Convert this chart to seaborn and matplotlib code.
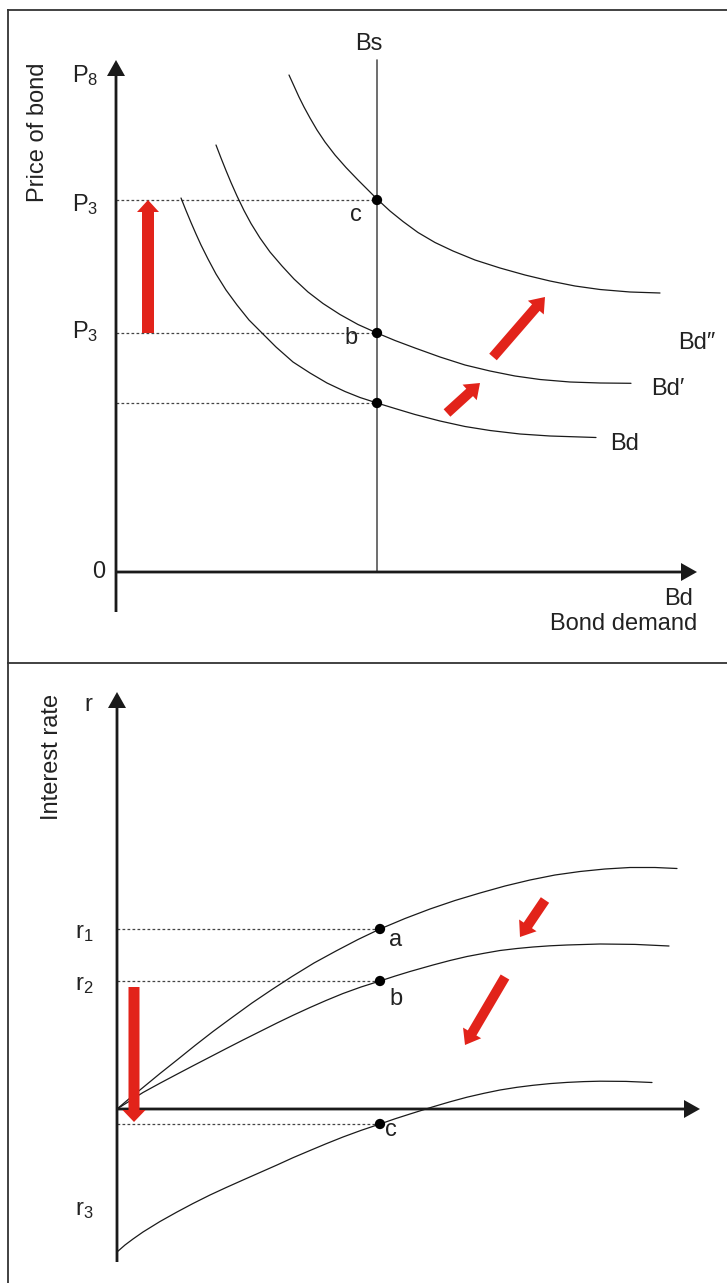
import matplotlib
matplotlib.use("Agg")
import matplotlib.pyplot as plt
import seaborn as sns

sns.set_theme(style="white")
plt.rcParams['font.family'] = ['Liberation Sans', 'DejaVu Sans']
plt.rcParams['mathtext.default'] = 'regular'

# ---------------- data: top panel (bond market) ----------------
bd2_x = [17.3, 17.8, 18.3, 18.8, 19.4, 20.1, 20.9, 21.9, 23.0, 24.2, 25.2, 26.1, 27.4, 28.7,
         30.2, 31.9, 33.7, 35.9, 38.4, 40.9, 43.4, 45.9, 48.4, 51.4, 54.4]
bd2_y = [49.7, 48.6, 47.5, 46.5, 45.4, 44.2, 43.0, 41.7, 40.45, 39.2, 38.2, 37.3, 36.1, 35.05,
         33.95, 32.95, 32.1, 31.2, 30.4, 29.7, 29.1, 28.6, 28.25, 28.0, 27.9]
bd1_x = [10.0, 10.5, 11.0, 11.5, 12.1, 12.8, 13.5, 14.4, 15.4, 16.6, 17.8, 19.2, 20.7, 22.4,
         24.2, 26.1, 27.9, 29.9, 32.4, 34.9, 37.4, 39.9, 42.4, 45.4, 48.4, 51.5]
bd1_y = [42.7, 41.4, 40.15, 38.95, 37.6, 36.15, 34.85, 33.4, 32.0, 30.6, 29.3, 28.0, 26.85, 25.75,
         24.75, 23.9, 23.15, 22.4, 21.5, 20.7, 20.1, 19.6, 19.25, 19.0, 18.9, 18.87]
bd0_x = [6.5, 7.0, 7.5, 8.0, 8.5, 9.2, 10.0, 11.0, 12.1, 13.3, 14.6, 16.0, 17.7, 19.4, 21.1,
         22.9, 24.4, 26.1, 27.9, 29.9, 32.4, 34.9, 37.4, 40.4, 43.4, 48.0]
bd0_y = [37.4, 36.15, 34.95, 33.8, 32.7, 31.3, 29.8, 28.2, 26.7, 25.2, 23.9, 22.5, 21.0, 19.9, 18.9,
         18.05, 17.45, 16.9, 16.35, 15.75, 15.1, 14.55, 14.15, 13.8, 13.6, 13.45]
bs_q = 26.1
price_levels = [37.2, 23.9, 16.9]          # c, b, (a)
price_point_labels = ["c", "b", ""]
price_tick_labels = ["P$_8$", "P$_3$", "P$_3$"]
curve_labels_top = ["Bd″", "Bd′", "Bd"]

# ---------------- data: bottom panel (interest rate) ----------------
ra_x = [0, 1.3, 2.6, 4.3, 6.0, 7.8, 9.6, 11.5, 13.5, 15.5, 17.5, 19.7, 21.9, 24.1, 26.3, 28.8,
        31.3, 33.8, 36.3, 38.8, 41.3, 43.8, 46.3, 48.8, 51.3, 53.8, 56.0]
ra_y = [0, 1.1, 2.15, 3.55, 4.9, 6.35, 7.75, 9.15, 10.6, 11.95, 13.25, 14.6, 15.8, 16.95, 18.0, 19.05,
        20.0, 20.85, 21.6, 22.3, 22.9, 23.4, 23.75, 24.0, 24.15, 24.15, 24.05]
rb_x = [0, 1.3, 2.6, 4.3, 6.0, 7.6, 9.3, 10.9, 12.6, 14.3, 16.0, 17.6, 19.3, 20.9, 22.6, 24.4,
        26.3, 27.8, 29.3, 31.6, 33.3, 35.0, 36.7, 38.3, 40.0, 41.6, 43.3, 45.0, 48.3, 51.8, 55.2]
rb_y = [0, 0.82, 1.65, 2.58, 3.48, 4.32, 5.2, 6.03, 6.9, 7.75, 8.6, 9.37, 10.15, 10.85, 11.55, 12.2,
        12.8, 13.29, 13.75, 14.4, 14.85, 15.25, 15.57, 15.85, 16.05, 16.2, 16.32, 16.4, 16.5, 16.46, 16.3]
rc_x = [0, 0.8, 1.6, 2.6, 4.3, 6.0, 7.6, 9.3, 10.9, 12.6, 14.3, 16.0, 17.6, 19.3, 20.9, 22.6, 24.4,
        26.3, 27.8, 29.3, 31.6, 33.3, 35.0, 36.7, 38.3, 40.0, 41.6, 43.3, 45.0, 46.7, 48.3, 50.9, 53.5]
rc_y = [-14.3, -13.6, -13.0, -12.3, -11.25, -10.3, -9.45, -8.6, -7.86, -7.1, -6.35, -5.6, -4.87,
        -4.15, -3.48, -2.8, -2.14, -1.5, -0.98, -0.5, 0.22, 0.72, 1.18, 1.57, 1.9, 2.17, 2.37, 2.54,
        2.66, 2.74, 2.78, 2.76, 2.65]
r_q = 26.3
rate_levels = [18.0, 12.8, -1.5]
rate_point_labels = ["a", "b", "c"]
rate_tick_labels = ["r$_1$", "r$_2$", "r$_3$"]

RED = "#e2231a"
INK = "#1a1a1a"
TXT = "#222222"
FS = 17

W, H = 727, 1283
fig = plt.figure(figsize=(W / 100, H / 100), dpi=100, facecolor="white")
ax1 = fig.add_axes([8 / W, (H - 663) / H, 1 - 8 / W, (663 - 10) / H])
ax2 = fig.add_axes([8 / W, 0, 1 - 8 / W, (H - 663) / H])

for ax in (ax1, ax2):
    ax.set_xticks([]); ax.set_yticks([])
    for s in ("right", "bottom"):
        ax.spines[s].set_visible(False)
    for s in ("left", "top"):
        ax.spines[s].set_visible(True)
        ax.spines[s].set_color("#333333")
        ax.spines[s].set_linewidth(1.3)
    ax.set_facecolor("white")

ax1.set_xlim(-10.8, 61.1); ax1.set_ylim(-9.1, 56.2)
ax2.set_xlim(-10.9, 61.0); ax2.set_ylim(-17.4, 44.6)

axis_kw = dict(width=0.28, head_width=1.8, head_length=1.6, length_includes_head=True,
               color=INK, lw=0, zorder=5)
curve_kw = dict(color=INK, lw=0.9, estimator=None, sort=False, zorder=3,
                solid_joinstyle="round", solid_capstyle="round")
dot_line_kw = dict(color="#444444", lw=0.9, dashes=(2.2, 1.8), zorder=2)

# ---------- top panel ----------
ax1.arrow(0, -4.0, 0, 55.2, **axis_kw)
ax1.arrow(0, 0, 58.1, 0, **axis_kw)
ax1.plot([bs_q, bs_q], [0, 51.2], color="#555555", lw=1.2, zorder=2)

for xs, ys in ((bd2_x, bd2_y), (bd1_x, bd1_y), (bd0_x, bd0_y)):
    sns.lineplot(x=xs, y=ys, ax=ax1, **curve_kw)

for lv in price_levels:
    ax1.plot([0, bs_q], [lv, lv], **dot_line_kw)
sns.scatterplot(x=[bs_q] * 3, y=price_levels, ax=ax1, color="black", s=55,
                edgecolor="none", zorder=6)

ax1.text(25.3, 52.8, "Bs", fontsize=FS, color=TXT, ha="center", va="center")
for lab, yb in zip(price_tick_labels, [49.0, 36.1, 23.4]):
    ax1.text(-4.4, yb, lab, fontsize=FS, color=TXT, ha="left", va="baseline")
ax1.text(-1.7, 0, "0", fontsize=FS, color=TXT, ha="center", va="center")
ax1.text(-7.75, 44.0, "Price of bond", fontsize=FS, color=TXT, ha="center", va="center",
         rotation=90)
ax1.text(24.0, 35.7, price_point_labels[0], fontsize=FS, color=TXT, ha="center", va="center")
ax1.text(23.5, 23.4, price_point_labels[1], fontsize=FS, color=TXT, ha="center", va="center")
for lab, (tx, ty) in zip(curve_labels_top, [(58.1, 22.9), (55.2, 18.3), (50.9, 12.8)]):
    ax1.text(tx, ty, lab, fontsize=FS, color=TXT, ha="center", va="center")
ax1.text(57.7, -2.7, "Bd", fontsize=FS, color=TXT, ha="right", va="center")
ax1.text(58.1, -5.2, "Bond demand", fontsize=FS, color=TXT, ha="right", va="center")

red_kw = dict(length_includes_head=True, color=RED, lw=0, zorder=7)
ax1.arrow(3.2, 23.9, 0, 37.2 - 23.9, width=1.2, head_width=2.2, head_length=1.2, **red_kw)
ax1.arrow(33.1, 15.9, 36.4 - 33.1, 18.9 - 15.9, width=1.0, head_width=2.1, head_length=1.4, **red_kw)
ax1.arrow(37.7, 21.5, 42.9 - 37.7, 27.5 - 21.5, width=1.0, head_width=2.1, head_length=1.4, **red_kw)

# ---------- bottom panel ----------
ax2.arrow(0, -15.3, 0, 57.0, **axis_kw)
ax2.arrow(0, 0, 58.3, 0, **axis_kw)

for xs, ys in ((ra_x, ra_y), (rb_x, rb_y), (rc_x, rc_y)):
    sns.lineplot(x=xs, y=ys, ax=ax2, **curve_kw)

for lv in rate_levels:
    ax2.plot([0, r_q], [lv, lv], **dot_line_kw)
sns.scatterplot(x=[r_q] * 3, y=rate_levels, ax=ax2, color="black", s=55,
                edgecolor="none", zorder=6)

ax2.text(-2.9, 40.4, "r", fontsize=FS, color=TXT, ha="center", va="center")
ax2.text(-6.5, 35.2, "Interest rate", fontsize=FS, color=TXT, ha="center", va="center",
         rotation=90)
for lab, yb in zip(rate_tick_labels, [17.1, 11.9, -10.6]):
    ax2.text(-4.2, yb, lab, fontsize=FS, color=TXT, ha="left", va="baseline")
for lab, (tx, ty) in zip(rate_point_labels, [(27.9, 16.9), (27.9, 11.0), (27.4, -2.1)]):
    ax2.text(tx, ty, lab, fontsize=FS, color=TXT, ha="center", va="center")

ax2.arrow(1.7, 12.2, 0, -1.3 - 12.2, width=1.1, head_width=2.3, head_length=1.2, **red_kw)
ax2.arrow(42.8, 20.9, 40.3 - 42.8, 17.2 - 20.9, width=1.0, head_width=2.1, head_length=1.4, **red_kw)
ax2.arrow(38.8, 13.2, 34.8 - 38.8, 6.4 - 13.2, width=1.0, head_width=2.1, head_length=1.4, **red_kw)

fig.savefig("out.png", dpi=100, facecolor="white")
